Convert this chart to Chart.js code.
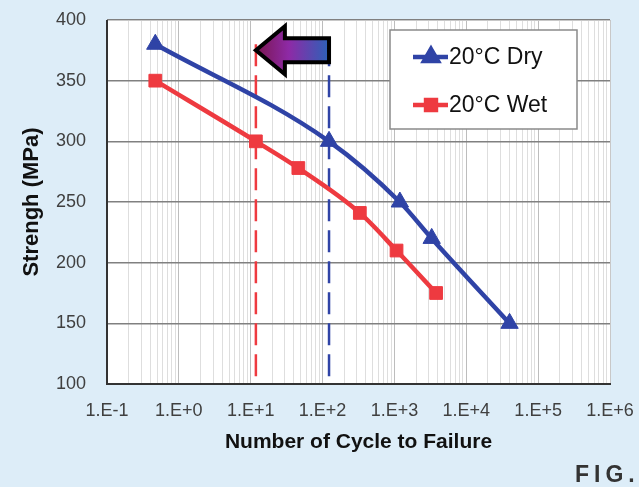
<!DOCTYPE html>
<html>
<head>
<meta charset="utf-8">
<script src="https://cdn.jsdelivr.net/npm/chart.js@4.4.1/dist/chart.umd.min.js"></script>
<style>
  html, body { margin: 0; padding: 0; background: #ddedf8; }
  #wrap { width: 639px; height: 487px; }
</style>
</head>
<body>
<div id="wrap"><canvas id="snChart" width="639" height="487"></canvas></div>
<script>
// cycles to failure (log axis) and strength in MPa
const dryCycles = [0.47, 123, 1190, 3300, 40000];
const dryStrength = [380, 300, 250, 220, 150];
const wetCycles = [0.47, 11.8, 46, 330, 1070, 3800];
const wetStrength = [350, 300, 278, 241, 210, 175];

// dashed markers at 300 MPa crossing, arrow drawn between them
const wetCross = 11.8;
const dryCross = 123;
const markerTop = 380;
const arrowLevel = 375;

const seriesLabels = ['20°C Dry', '20°C Wet'];
const xDecades = [-1, 0, 1, 2, 3, 4, 5, 6];
const yTicks = [100, 150, 200, 250, 300, 350, 400];

const BLUE = '#2f43a6';
const RED = '#ee3a40';

const toPoints = (xs, ys) => xs.map((x, i) => ({ x: x, y: ys[i] }));

function expLabel(v) {
  const e = Math.round(Math.log10(v));
  if (Math.abs(Math.pow(10, e) - v) / v > 1e-6) return '';
  return '1.E' + (e < 0 ? '-' : '+') + Math.abs(e);
}

const bgPlugin = {
  id: 'bgPlugin',
  beforeDraw(chart) {
    const { ctx, chartArea: a } = chart;
    ctx.save();
    ctx.fillStyle = '#ddedf8';
    ctx.fillRect(0, 0, chart.width, chart.height);
    ctx.fillStyle = '#ffffff';
    ctx.fillRect(a.left, a.top, a.right - a.left, a.bottom - a.top);
    ctx.restore();
  },
  afterDraw(chart) {
    const { ctx, chartArea: a } = chart;
    ctx.save();
    // frame: light top/right, dark left/bottom
    ctx.strokeStyle = '#c8c8c8';
    ctx.lineWidth = 1;
    ctx.beginPath();
    ctx.moveTo(a.left, a.top + 0.5); ctx.lineTo(a.right + 0.5, a.top + 0.5);
    ctx.lineTo(a.right + 0.5, a.bottom);
    ctx.stroke();
    ctx.strokeStyle = '#333333';
    ctx.lineWidth = 2;
    ctx.beginPath();
    ctx.moveTo(a.left, a.top); ctx.lineTo(a.left, a.bottom); ctx.lineTo(a.right + 1, a.bottom);
    ctx.stroke();

    // FIG. caption
    ctx.fillStyle = '#333333';
    ctx.font = 'bold 23px "Liberation Sans", Arial, sans-serif';
    ctx.letterSpacing = '5px';
    ctx.textAlign = 'left';
    ctx.textBaseline = 'alphabetic';
    ctx.fillText('FIG.', 575, 482);
    ctx.restore();
  }
};

const arrowPlugin = {
  id: 'arrowPlugin',
  afterDatasetsDraw(chart) {
    const { ctx, scales: { x, y } } = chart;
    const x0 = x.getPixelForValue(wetCross);
    const x1 = x.getPixelForValue(dryCross);
    const yc = y.getPixelForValue(arrowLevel);
    const headW = 29, headH = 24, shaftH = 12;
    ctx.save();
    const g = ctx.createLinearGradient(x0, 0, x1, 0);
    g.addColorStop(0, '#7a1650');
    g.addColorStop(0.45, '#8e2aa6');
    g.addColorStop(1, '#2c62b8');
    ctx.beginPath();
    ctx.moveTo(x0, yc);
    ctx.lineTo(x0 + headW, yc - headH);
    ctx.lineTo(x0 + headW, yc - shaftH);
    ctx.lineTo(x1, yc - shaftH);
    ctx.lineTo(x1, yc + shaftH);
    ctx.lineTo(x0 + headW, yc + shaftH);
    ctx.lineTo(x0 + headW, yc + headH);
    ctx.closePath();
    ctx.fillStyle = g;
    ctx.fill();
    ctx.lineWidth = 4;
    ctx.lineJoin = 'miter';
    ctx.strokeStyle = '#000';
    ctx.stroke();
    ctx.restore();
  }
};

const legendPlugin = {
  id: 'boxLegend',
  afterDraw(chart) {
    const { ctx } = chart;
    const bx = 390, by = 30, bw = 187, bh = 99;
    ctx.save();
    ctx.fillStyle = '#ffffff';
    ctx.fillRect(bx, by, bw, bh);
    ctx.strokeStyle = '#8a8a8a';
    ctx.lineWidth = 1.5;
    ctx.strokeRect(bx, by, bw, bh);
    const rows = [57, 105];
    [0, 1].forEach(i => {
      const ds = chart.data.datasets[i];
      const yy = rows[i];
      ctx.strokeStyle = ds.borderColor;
      ctx.lineWidth = 4.5;
      ctx.beginPath();
      ctx.moveTo(413, yy); ctx.lineTo(448, yy);
      ctx.stroke();
      Chart.helpers.drawPoint(ctx, {
        pointStyle: ds.pointStyle, radius: ds.pointRadius - 2, borderWidth: 1, rotation: 0
      }, 431, yy);
      ctx.fillStyle = ds.backgroundColor;
      ctx.strokeStyle = ds.borderColor;
      ctx.fill();
      ctx.fillStyle = '#111';
      ctx.font = '23px "Liberation Sans", Arial, sans-serif';
      ctx.textBaseline = 'middle';
      ctx.fillText(ds.label, 449, yy + 1);
    });
    ctx.restore();
  }
};

const ctx = document.getElementById('snChart').getContext('2d');
new Chart(ctx, {
  type: 'line',
  data: {
    datasets: [
      {
        label: seriesLabels[0],
        data: toPoints(dryCycles, dryStrength),
        borderColor: BLUE,
        backgroundColor: BLUE,
        borderWidth: 4.5,
        pointStyle: 'triangle',
        pointRadius: 10,
        pointBorderWidth: 1,
        cubicInterpolationMode: 'monotone'
      },
      {
        label: seriesLabels[1],
        data: toPoints(wetCycles, wetStrength),
        borderColor: RED,
        backgroundColor: RED,
        borderWidth: 4.5,
        pointStyle: 'rect',
        pointRadius: 9,
        pointBorderWidth: 1,
        cubicInterpolationMode: 'monotone'
      },
      {
        label: 'wet marker',
        data: [{ x: wetCross, y: markerTop }, { x: wetCross, y: 100 }],
        borderColor: RED,
        borderWidth: 2.5,
        borderDash: [22, 9],
        pointRadius: 0
      },
      {
        label: 'dry marker',
        data: [{ x: dryCross, y: markerTop }, { x: dryCross, y: 100 }],
        borderColor: BLUE,
        borderWidth: 2.5,
        borderDash: [22, 9],
        pointRadius: 0
      }
    ]
  },
  options: {
    responsive: false,
    animation: false,
    layout: { padding: { top: 20, right: 29, bottom: 0, left: 0 } },
    scales: {
      x: {
        type: 'logarithmic',
        min: 0.1,
        max: 1e6,
        afterBuildTicks(scale) {
          const t = [];
          xDecades.forEach(d => {
            if (d === 6) { t.push({ value: 1e6 }); return; }
            for (let m = 1; m <= 9; m++) t.push({ value: m * Math.pow(10, d) });
          });
          scale.ticks = t;
        },
        afterFit(scale) {
          scale.height = 103;
          scale.paddingLeft = 0;
          scale.paddingRight = 0;
        },
        grid: {
          drawTicks: false,
          color: c => expLabel(c.tick.value) ? '#bdbdbd' : '#dedede',
          lineWidth: 1
        },
        border: { display: false },
        ticks: {
          autoSkip: false,
          maxRotation: 0,
          padding: 16,
          color: '#404040',
          font: { family: '"Liberation Sans", Arial, sans-serif', size: 18, lineHeight: 1.2 },
          callback: v => expLabel(v)
        },
        title: {
          display: true,
          text: 'Number of Cycle to Failure',
          color: '#111',
          font: { family: '"Liberation Sans", Arial, sans-serif', size: 21, weight: 'bold', lineHeight: 1.2 },
          padding: { top: 0, bottom: 32 }
        }
      },
      y: {
        min: 100,
        max: 400,
        afterBuildTicks(scale) { scale.ticks = yTicks.map(v => ({ value: v })); },
        afterFit(scale) {
          scale.width = 107;
          scale.paddingTop = 0;
          scale.paddingBottom = 0;
        },
        grid: { drawTicks: false, color: '#808080', lineWidth: 1.5 },
        border: { display: false },
        ticks: {
          padding: 21,
          color: '#404040',
          font: { family: '"Liberation Sans", Arial, sans-serif', size: 18, lineHeight: 1.2 }
        },
        title: {
          display: true,
          text: 'Strengh (MPa)',
          color: '#111',
          font: { family: '"Liberation Sans", Arial, sans-serif', size: 22, weight: 'bold', lineHeight: 1.2 },
          padding: { top: 19, bottom: 0 }
        }
      }
    },
    plugins: {
      legend: { display: false },
      tooltip: { enabled: false }
    }
  },
  plugins: [bgPlugin, arrowPlugin, legendPlugin]
});
</script>
</body>
</html>
